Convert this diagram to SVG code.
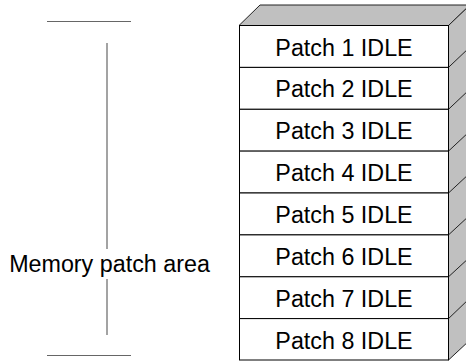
<svg xmlns="http://www.w3.org/2000/svg" width="466" height="361" viewBox="0 0 466 361">
<style>
.dim{stroke:#666;stroke-width:1.2;fill:none}
.face{fill:#c0c0c0;stroke:#222;stroke-width:1}
.row{fill:#fff;stroke:#000;stroke-width:1}
.edge{stroke:#222;stroke-width:1;fill:none}
text{font-family:"Liberation Sans",Arial,sans-serif;font-size:23.3px;fill:#000}
.lbl{text-anchor:middle}
</style>
<rect width="466" height="361" fill="#fff"/>
<g id="dimension">
<line class="dim" x1="47" y1="21.5" x2="131" y2="21.5"/>
<line class="dim" x1="47" y1="355.5" x2="131" y2="355.5"/>
<line class="dim" x1="107" y1="43" x2="107" y2="249"/>
<line class="dim" x1="107" y1="279" x2="107" y2="335"/>
<text x="109.5" y="272" class="lbl">Memory patch area</text>
</g>
<g id="stack">
<polygon class="face" points="239,25.5 260,5 470,5 448.5,25.5"/>
<polygon class="face" points="448.5,25.5 470,5 470,340 448.5,360"/>
<g class="edge">
<line x1="448.5" y1="67.4" x2="470" y2="47"/>
<line x1="448.5" y1="109.3" x2="470" y2="89"/>
<line x1="448.5" y1="151.1" x2="470" y2="131"/>
<line x1="448.5" y1="193" x2="470" y2="173"/>
<line x1="448.5" y1="234.9" x2="470" y2="215"/>
<line x1="448.5" y1="276.8" x2="470" y2="257"/>
<line x1="448.5" y1="318.6" x2="470" y2="298"/>
</g>
</g>
<g id="patch1"><rect class="row" x="239.5" y="25.5" width="209" height="41.9"/><text class="lbl" x="344" y="55.5">Patch 1 IDLE</text></g>
<g id="patch2"><rect class="row" x="239.5" y="67.4" width="209" height="41.9"/><text class="lbl" x="344" y="97.4">Patch 2 IDLE</text></g>
<g id="patch3"><rect class="row" x="239.5" y="109.3" width="209" height="41.9"/><text class="lbl" x="344" y="139.3">Patch 3 IDLE</text></g>
<g id="patch4"><rect class="row" x="239.5" y="151.1" width="209" height="41.9"/><text class="lbl" x="344" y="181.1">Patch 4 IDLE</text></g>
<g id="patch5"><rect class="row" x="239.5" y="193" width="209" height="41.9"/><text class="lbl" x="344" y="223">Patch 5 IDLE</text></g>
<g id="patch6"><rect class="row" x="239.5" y="234.9" width="209" height="41.9"/><text class="lbl" x="344" y="264.9">Patch 6 IDLE</text></g>
<g id="patch7"><rect class="row" x="239.5" y="276.8" width="209" height="41.9"/><text class="lbl" x="344" y="306.8">Patch 7 IDLE</text></g>
<g id="patch8"><rect class="row" x="239.5" y="318.6" width="209" height="41.4"/><text class="lbl" x="344" y="348.6">Patch 8 IDLE</text></g>
</svg>
